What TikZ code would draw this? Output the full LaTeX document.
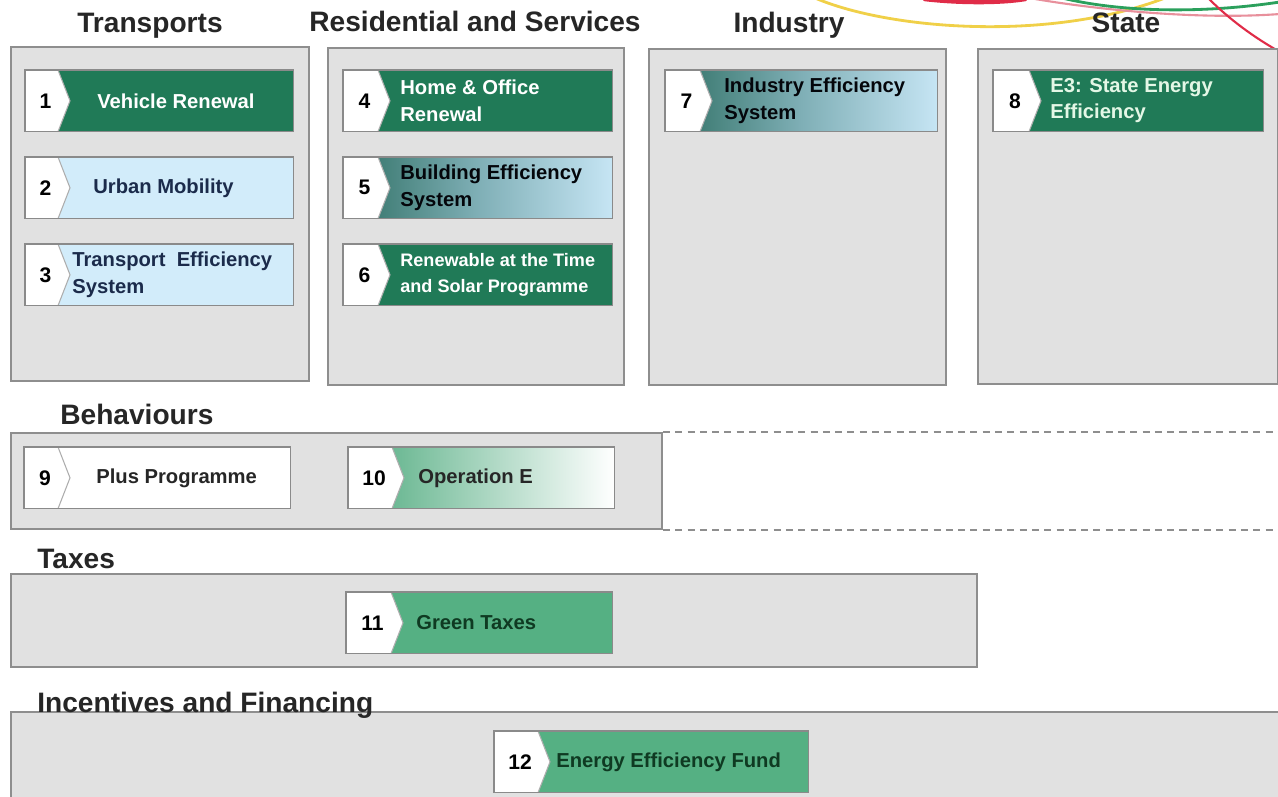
\documentclass[tikz,border=0pt]{standalone}
\usepackage{fontspec}
\setmainfont{Liberation Sans}
\usetikzlibrary{calc}

\definecolor{panelfill}{HTML}{E1E1E1}
\definecolor{panelline}{HTML}{8E8E8E}
\definecolor{itemline}{HTML}{8A8A8A}
\definecolor{darkgreen}{HTML}{207A57}
\definecolor{midgreen}{HTML}{55B083}
\definecolor{lightblue}{HTML}{D2ECFA}
\definecolor{tealdark}{HTML}{2D6E62}
\definecolor{tealmid}{HTML}{7FAFB6}
\definecolor{tealend}{HTML}{C6E5F4}
\definecolor{navytext}{HTML}{1B2B4B}
\definecolor{deepgreen}{HTML}{0F3A22}
\definecolor{palegreen}{HTML}{E4F7E6}
\definecolor{headtext}{HTML}{262626}
\definecolor{arcyellow}{HTML}{F0D048}
\definecolor{arcred}{HTML}{E02C48}
\definecolor{arcgreen}{HTML}{2BA05C}
\definecolor{arcpink}{HTML}{E8909C}

\tikzset{
  panel/.style={draw=panelline, fill=panelfill, line width=1.1pt, rectangle,
    inner sep=0pt, anchor=north west},
  itembox/.style={rectangle, inner sep=0pt, minimum height=1.22cm, anchor=north west},
  itemframe/.style={draw=itemline, line width=0.8pt},
  chevline/.style={draw=itemline!70, line width=0.6pt},
  head/.style={font=\fontsize{16}{19}\selectfont\bfseries, text=headtext,
    anchor=base, inner sep=0pt},
  headleft/.style={head, anchor=base west},
  num/.style={font=\fontsize{12}{14}\selectfont\bfseries, text=black, inner sep=0pt},
  label/.style={font=\fontsize{11.5}{15}\selectfont\bfseries, anchor=west,
    align=left, inner sep=0pt},
  % kinds of programme boxes: fill of the box and colour of its label
  dg/.style={fill=darkgreen},
  dg text/.style={text=white},
  dgsmall/.style={fill=darkgreen},
  dgsmall text/.style={text=white, font=\fontsize{10.3}{14.5}\selectfont\bfseries},
  dgpale/.style={fill=darkgreen},
  dgpale text/.style={text=palegreen},
  lb/.style={fill=lightblue},
  lb text/.style={text=navytext},
  teal/.style={left color=tealdark, right color=tealend, middle color=tealmid},
  teal text/.style={text=black!85!navytext},
  wh/.style={fill=white},
  wh text/.style={text=black!85},
  fade/.style={left color=midgreen!90!darkgreen, right color=white},
  fade text/.style={text=black!85},
  mg/.style={fill=midgreen},
  mg text/.style={text=deepgreen},
  arc/.style={line width=1.6pt, line cap=round},
  dashedline/.style={draw=panelline, line width=1.1pt, dash pattern=on 4pt off 3pt}
}

% #1 name, #2 x, #3 y, #4 width, #5 width of the white number tab,
% #6 number, #7 kind, #8 label offset, #9 label
\newcommand\progitem[9]{%
  \node[itembox, #7, minimum width=#4*0.02cm] (#1) at (#2,#3) {};
  \fill[white] (#1.north west) -- ($(#1.north west)+(#5,0)$)
    -- ($(#1.west)+(#5+12,0)$) -- ($(#1.south west)+(#5,0)$)
    -- (#1.south west) -- cycle;
  \draw[chevline] ($(#1.north west)+(#5,0)$) -- ($(#1.west)+(#5+12,0)$)
    -- ($(#1.south west)+(#5,0)$);
  \draw[itemframe] (#1.north west) rectangle (#1.south east);
  \node[num] (#1n) at ($(#1.west)+(#5/2+4,0)$) {#6};
  \node[label, #7 text] (#1t) at ($(#1.west)+(#8,0)$) {#9};
}

\begin{document}
\begin{tikzpicture}[x=0.02cm, y=-0.02cm]
\useasboundingbox[fill=white] (0,0) rectangle (1278,797);

% decorative arcs at the upper right corner
\draw[arc, arcyellow] (815,-2) .. controls (890,30) and (1050,42) .. (1165,-2);
\draw[arc, arcred, line width=2.6pt] (925,-1) .. controls (960,3) and (1000,3) .. (1025,-1);
\draw[arc, arcpink, line width=1.2pt] (1035,-1) .. controls (1100,10) and (1200,20) .. (1280,14);
\draw[arc, arcgreen] (1062,-2) .. controls (1120,12) and (1200,14) .. (1280,2);
\draw[arc, arcred, line width=1.2pt] (1208,-2) .. controls (1230,20) and (1255,38) .. (1280,52);

% section panels
\node[panel, minimum width=298*0.02cm, minimum height=334*0.02cm] (pT) at (10,46) {};
\node[panel, minimum width=296*0.02cm, minimum height=337*0.02cm] (pR) at (327,47) {};
\node[panel, minimum width=297*0.02cm, minimum height=336*0.02cm] (pI) at (648,48) {};
\node[panel, minimum width=300*0.02cm, minimum height=335*0.02cm] (pS) at (977,48) {};
\node[panel, minimum width=651*0.02cm, minimum height=96*0.02cm] (pB) at (10,432) {};
\node[panel, minimum width=966*0.02cm, minimum height=93*0.02cm] (pX) at (10,573) {};
\node[panel, minimum width=1290*0.02cm, minimum height=100*0.02cm] (pF) at (10,711) {};

% dashed continuation of the behaviours band
\coordinate (dEdge) at (1278,480);
\draw[dashedline] (pB.north east) -- (pB.north east -| dEdge);
\draw[dashedline] (pB.south east) -- (pB.south east -| dEdge);

% section titles
\node[head] (hT) at (150,33) {Transports};
\node[head] (hR) at (475,32) {Residential and Services};
\node[head] (hI) at (789,33) {Industry};
\node[head] (hS) at (1126,33) {State};
\node[headleft] (hB) at (60,424) {Behaviours};
\node[headleft] (hX) at (37,568) {Taxes};
\node[headleft] (hF) at (37,712) {Incentives and Financing};

% programmes
\progitem{i1}{25}{70}{268}{33}{1}{dg}{72}{Vehicle Renewal}
\progitem{i2}{25}{157}{268}{33}{2}{lb}{68}{Urban Mobility}
\progitem{i3}{25}{244}{268}{33}{3}{lb}{47}{Transport\ \ Efficiency\\System}
\progitem{i4}{343}{70}{269}{35}{4}{dg}{57}{Home \& Office\\Renewal}
\progitem{i5}{343}{157}{269}{35}{5}{teal}{57}{Building Efficiency\\System}
\progitem{i6}{343}{244}{269}{35}{6}{dgsmall}{57}{Renewable at the Time\\and Solar Programme}
\progitem{i7}{665}{70}{272}{35}{7}{teal}{59}{Industry Efficiency\\System}
\progitem{i8}{993}{70}{270}{36}{8}{dgpale}{57}{E3: State Energy\\Efficiency}
\progitem{i9}{24}{447}{266}{34}{9}{wh}{72}{Plus Programme}
\progitem{i10}{348}{447}{266}{44}{10}{fade}{70}{Operation E}
\progitem{i11}{346}{592}{266}{45}{11}{mg}{70}{Green Taxes}
\progitem{i12}{494}{731}{314}{44}{12}{mg}{62}{Energy Efficiency Fund}
\end{tikzpicture}
\end{document}
